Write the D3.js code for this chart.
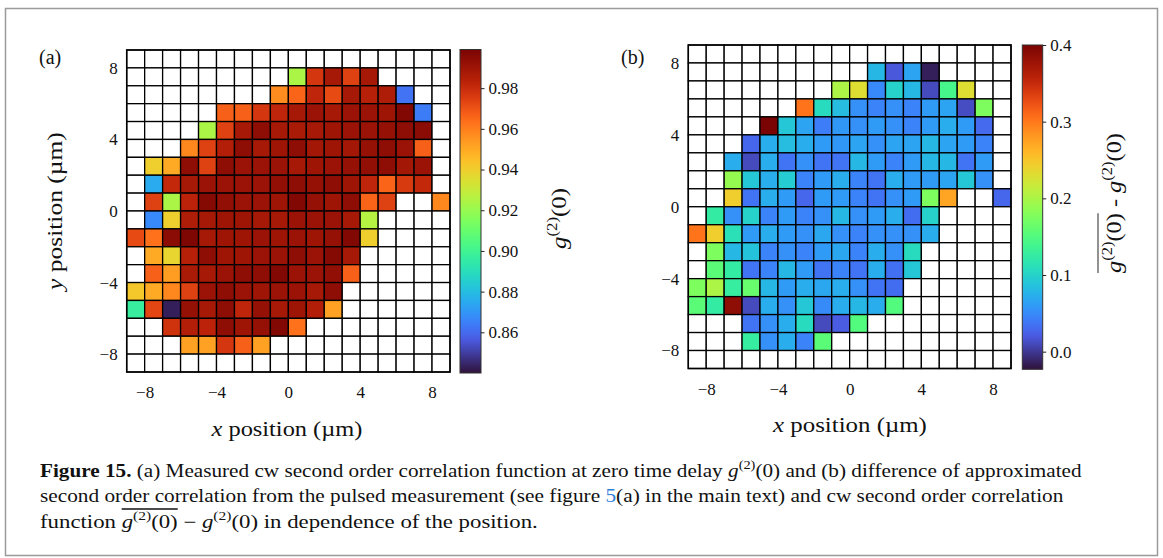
<!DOCTYPE html>
<html><head><meta charset="utf-8">
<script src="https://cdn.jsdelivr.net/npm/d3@7"></script>
<style>body{margin:0;background:#fff}svg{display:block}</style>
</head><body>
<svg id="c" width="1163" height="558"></svg>
<script>
// ---------- data ----------
const xCenters = [-8.5,-7.5,-6.5,-5.5,-4.5,-3.5,-2.5,-1.5,-0.5,0.5,1.5,2.5,3.5,4.5,5.5,6.5,7.5,8.5];
const yCenters = [8.5,7.5,6.5,5.5,4.5,3.5,2.5,1.5,0.5,-0.5,-1.5,-2.5,-3.5,-4.5,-5.5,-6.5,-7.5,-8.5];
const axisTicks = [-8,-4,0,4,8];
const cbTicksA = [0.86,0.88,0.90,0.92,0.94,0.96,0.98];
const cbTicksB = [0.0,0.1,0.2,0.3,0.4];
const n = null;
// (a) measured cw g2(0), rows from top (y=8.5) to bottom
const g2cw = [
[n,n,n,n,n,n,n,n,n,n,n,n,n,n,n,n,n,n],
[n,n,n,n,n,n,n,n,n,0.924,0.977,0.988,0.974,0.988,n,n,n,n],
[n,n,n,n,n,n,n,n,0.957,0.966,0.982,0.972,0.988,0.984,0.986,0.862,n,n],
[n,n,n,n,n,0.967,0.967,0.977,0.982,0.988,0.991,0.988,0.991,0.991,0.990,0.997,0.864,n],
[n,n,n,n,0.924,0.974,0.988,0.994,0.988,0.987,0.988,0.990,0.991,0.991,0.992,0.994,0.995,n],
[n,n,n,0.958,0.974,0.985,0.994,0.988,0.990,0.994,0.989,0.990,0.989,0.992,0.994,0.991,0.967,n],
[n,0.940,0.950,0.994,0.974,0.994,0.991,0.991,0.991,0.988,0.990,0.991,0.992,0.993,0.994,0.989,0.991,n],
[n,0.875,0.981,0.988,0.991,0.991,0.991,0.991,0.993,0.994,0.992,0.994,0.990,0.982,0.966,0.976,0.981,n],
[n,0.974,0.924,0.983,0.996,0.993,0.991,0.991,0.990,0.997,0.992,0.990,0.994,0.966,0.974,n,n,0.958],
[n,0.867,0.940,0.986,0.988,0.990,0.990,0.988,0.988,0.991,0.991,0.991,0.988,0.926,n,n,n,n],
[0.972,0.963,0.995,0.998,0.988,0.990,0.990,0.991,0.990,0.991,0.990,0.992,0.997,0.940,n,n,n,n],
[n,0.950,0.938,0.984,0.994,0.990,0.990,0.991,0.991,0.994,0.991,0.996,0.988,n,n,n,n,n],
[n,0.967,0.953,0.987,0.988,0.991,0.994,0.994,0.997,0.991,0.991,0.993,0.967,n,n,n,n,n],
[0.942,0.950,0.958,0.974,0.991,0.994,0.991,0.990,0.991,0.991,0.988,0.994,n,n,n,n,n,n],
[0.897,0.973,0.843,0.992,0.988,0.994,0.982,0.992,0.988,0.990,0.985,0.952,n,n,n,n,n,n],
[n,n,0.978,0.985,0.983,0.994,0.990,0.992,0.997,0.963,n,n,n,n,n,n,n,n],
[n,n,n,0.952,0.952,0.977,0.967,0.952,n,n,n,n,n,n,n,n,n,n],
[n,n,n,n,n,n,n,n,n,n,n,n,n,n,n,n,n,n]
];
// (b) difference pulsed-approx minus cw
const g2diff = [
[n,n,n,n,n,n,n,n,n,n,n,n,n,n,n,n,n,n],
[n,n,n,n,n,n,n,n,n,n,0.079,0.019,0.066,-0.015,n,n,n,n],
[n,n,n,n,n,n,n,n,0.201,0.231,0.049,0.100,0.079,0.011,0.142,0.231,n,n],
[n,n,n,n,n,n,0.303,0.108,0.083,0.053,0.045,0.053,0.045,0.060,0.066,0.012,0.176,n],
[n,n,n,n,0.400,0.091,0.066,0.042,0.058,0.053,0.060,0.053,0.045,0.060,0.072,0.060,0.030,n],
[n,n,n,0.028,0.072,0.083,0.072,0.060,0.058,0.066,0.053,0.066,0.066,0.079,0.066,0.060,0.045,n],
[n,n,0.072,0.011,0.072,0.036,0.053,0.036,0.036,0.079,0.060,0.045,0.060,0.079,0.079,0.036,0.060,n],
[n,n,0.189,0.091,0.072,0.095,0.045,0.060,0.072,0.045,0.036,0.072,0.060,0.060,0.066,0.091,0.053,n],
[n,n,0.244,0.036,0.072,0.060,0.028,0.060,0.060,0.045,0.036,0.053,0.060,0.176,0.273,n,n,0.028],
[n,0.125,0.053,0.100,0.045,0.060,0.045,0.053,0.079,0.053,0.060,0.072,0.032,0.100,n,n,n,n],
[0.303,0.244,0.112,0.060,0.072,0.060,0.053,0.068,0.053,0.045,0.053,0.053,0.053,0.072,n,n,n,n],
[n,0.176,0.079,0.087,0.045,0.053,0.045,0.060,0.068,0.045,0.072,0.053,0.108,n,n,n,n,n],
[n,0.155,0.125,0.036,0.045,0.079,0.060,0.036,0.045,0.036,0.072,0.034,0.091,n,n,n,n,n],
[0.176,0.201,0.128,0.163,0.079,0.060,0.072,0.068,0.072,0.053,0.036,0.032,n,n,n,n,n,n],
[0.155,0.125,0.387,0.011,0.072,0.053,0.091,0.050,0.072,0.079,0.072,0.150,n,n,n,n,n,n],
[n,n,n,0.036,0.053,0.072,0.108,0.011,0.022,0.150,n,n,n,n,n,n,n,n],
[n,n,n,0.128,0.053,0.072,0.045,0.155,n,n,n,n,n,n,n,n,n,n],
[n,n,n,n,n,n,n,n,n,n,n,n,n,n,n,n,n,n]
];
const colorDomainA = [0.84, 0.999];
const colorDomainB = [-0.023, 0.4];

// ---------- drawing ----------
const svg = d3.select("#c");
const SERIF = "'Liberation Serif','Times New Roman',serif";
const fmtMinus = v => (v < 0 ? "\u2212" + Math.abs(v) : String(v));
// turbo with matplotlib-like end points
const turboLo = d3.interpolateRgb("#30123b", d3.interpolateTurbo(0.1));
const turboHi = d3.interpolateRgb(d3.interpolateTurbo(0.9), "#7a0403");
const turbo = t => t < 0.1 ? turboLo(Math.max(0,t)/0.1) : t > 0.9 ? turboHi(Math.min(1,(t-0.9)/0.1)) : d3.interpolateTurbo(t);

// outer frame
svg.append("rect").attr("x",5.5).attr("y",8.5).attr("width",1152).attr("height",547)
  .attr("fill","none").attr("stroke","#9a9a9a").attr("stroke-width",1.5);

// rich text inside its own group; optional horizontal stretch to a target width
function richText(parent, x, y, segs, size, anchor, targetW) {
  const g = parent.append("g").attr("transform",`translate(${x},${y})`);
  const t = g.append("text").attr("x",0).attr("y",0)
    .attr("font-family",SERIF).attr("font-size",size).attr("fill","#111")
    .attr("text-anchor",anchor||"start");
  let raised = false;
  segs.forEach(s => {
    const ts = t.append("tspan").text(s.t);
    if (s.b) ts.attr("font-weight","bold");
    if (s.i) ts.attr("font-style","italic");
    if (s.c) ts.attr("fill",s.c);
    if (s.sup) {
      ts.attr("font-size",size*0.68);
      if (!raised) { ts.attr("dy",-size*0.42); raised = true; }
    } else if (raised) { ts.attr("dy",size*0.42); raised = false; }
  });
  if (targetW) {
    const len = t.node().getComputedTextLength();
    g.attr("transform",`translate(${x},${y}) scale(${targetW/len},1)`);
  }
  return {g,t};
}

function panel(o) {
  const g = svg.append("g");
  const x = d3.scaleLinear().domain([-9,9]).range([o.x0,o.x1]);
  const y = d3.scaleLinear().domain([-9,9]).range([o.y1,o.y0]);
  const color = d3.scaleSequential(turbo).domain(o.domain);
  const cells = [];
  o.data.forEach((row,r) => row.forEach((v,c) => cells.push({xc:xCenters[c], yc:yCenters[r], v})));
  g.selectAll("rect.cell").data(cells).join("rect").attr("class","cell")
    .attr("x",d => x(d.xc-0.5)).attr("y",d => y(d.yc+0.5))
    .attr("width",d => x(d.xc+0.5)-x(d.xc-0.5)).attr("height",d => y(d.yc-0.5)-y(d.yc+0.5))
    .attr("fill",d => d.v===null ? "#fff" : color(d.v))
    .attr("stroke","#000").attr("stroke-width",1.3);
  const ax = g.append("g").attr("transform",`translate(0,${o.y1})`)
    .call(d3.axisBottom(x).tickValues(axisTicks).tickSize(0).tickPadding(o.xpad).tickFormat(fmtMinus));
  const ay = g.append("g").attr("transform",`translate(${o.x0},0)`)
    .call(d3.axisLeft(y).tickValues(axisTicks).tickSize(0).tickPadding(9).tickFormat(fmtMinus));
  [ax,ay].forEach(a => {
    a.select(".domain").remove();
    a.selectAll("text").attr("font-family",SERIF).attr("font-size",17).attr("fill","#111");
  });
  g.append("rect").attr("x",o.x0).attr("y",o.y0).attr("width",o.x1-o.x0).attr("height",o.y1-o.y0)
    .attr("fill","none").attr("stroke","#000").attr("stroke-width",1.5);
  // colorbar
  const cb = d3.scaleLinear().domain(o.domain).range([o.cby1,o.cby0]);
  const gid = "grad"+o.id;
  const grad = svg.append("defs").append("linearGradient").attr("id",gid)
    .attr("x1",0).attr("y1",1).attr("x2",0).attr("y2",0);
  d3.range(0,1.0001,0.02).forEach(t => grad.append("stop").attr("offset",t)
    .attr("stop-color",color(o.domain[0]+t*(o.domain[1]-o.domain[0]))));
  g.append("rect").attr("x",o.cbx0).attr("y",o.cby0).attr("width",o.cbx1-o.cbx0).attr("height",o.cby1-o.cby0)
    .attr("fill",`url(#${gid})`).attr("stroke","#333").attr("stroke-width",1);
  const ac = g.append("g").attr("transform",`translate(${o.cbx1},0)`)
    .call(d3.axisRight(cb).tickValues(o.cbTicks).tickSize(3.5).tickPadding(4).tickFormat(o.cbFmt));
  ac.select(".domain").remove();
  ac.selectAll("line").attr("stroke","#222");
  ac.selectAll("text").attr("font-family",SERIF).attr("font-size",17).attr("fill","#111");
  richText(g,o.xlabX - o.xlabW/2,o.xlabY,[{t:"x",i:true},{t:" position (\u00b5m)"}],21,"start",o.xlabW);
  return {g,x,y};
}

panel({id:"a",x0:126.7,x1:450,y0:50,y1:372,data:g2cw,domain:colorDomainA,xpad:14,
  cbx0:460,cbx1:481,cby0:49.5,cby1:373,cbTicks:cbTicksA,cbFmt:d3.format(".2f"),
  xlabX:287,xlabW:151,xlabY:436});
panel({id:"b",x0:688.3,x1:1011,y0:45,y1:368.5,data:g2diff,domain:colorDomainB,xpad:14,
  cbx0:1022.3,cbx1:1042.7,cby0:45,cby1:369.3,cbTicks:cbTicksB,cbFmt:d3.format(".1f"),
  xlabX:850,xlabW:154,xlabY:432});

// panel letters
richText(svg,39,64,[{t:"(a)"}],20);
richText(svg,621,64,[{t:"(b)"}],20);

// y label (a)
const yl = svg.append("g").attr("transform","translate(62,290) rotate(-90)");
richText(yl,0,0,[{t:"y",i:true},{t:" position (\u00b5m)"}],21,"start",158);

// colorbar label (a)
const cla = svg.append("g").attr("transform","translate(566,249) rotate(-90)");
richText(cla,0,0,[{t:"g",i:true},{t:"(2)",sup:true},{t:"(0)"}],22,"start",61);

// colorbar label (b)
const clb = svg.append("g").attr("transform","translate(1121,273) rotate(-90)");
const tb = richText(clb,0,0,[{t:"g",i:true},{t:"(2)",sup:true},{t:"(0) - "},{t:"g",i:true},{t:"(2)",sup:true},{t:"(0)"}],22,"start",140);
{
  const node = tb.t.node();
  const s = node.getStartPositionOfChar(0).x, e = node.getEndPositionOfChar(6).x;
  tb.g.append("line").attr("x1",s).attr("x2",e).attr("y1",-23).attr("y2",-23).attr("stroke","#777").attr("stroke-width",1.6);
}

// caption
const capLines = [
  [{t:"Figure 15.",b:true},{t:"  (a) Measured cw second order correlation function at zero time delay "},{t:"g",i:true},{t:"(2)",sup:true},{t:"(0) and (b) difference of approximated"}],
  [{t:"second order correlation from the pulsed measurement (see figure "},{t:"5",c:"#2f7fd8"},{t:"(a) in the main text) and cw second order correlation"}],
  [{t:"function "},{t:"g",i:true},{t:"(2)",sup:true},{t:"(0) \u2212 "},{t:"g",i:true},{t:"(2)",sup:true},{t:"(0) in dependence of the position."}]
];
const capY = [477, 502, 528];
const capW = [1042, 1024, 498];
capLines.forEach((segs,i) => {
  const r = richText(svg,40,capY[i],segs,18,"start",capW[i]);
  if (i === 2) {
    const node = r.t.node();
    const s = node.getStartPositionOfChar(9).x, e = node.getEndPositionOfChar(15).x;
    r.g.append("line").attr("x1",s).attr("x2",e).attr("y1",-19).attr("y2",-19)
      .attr("stroke","#111").attr("stroke-width",1.3);
  }
});
</script>
</body></html>
